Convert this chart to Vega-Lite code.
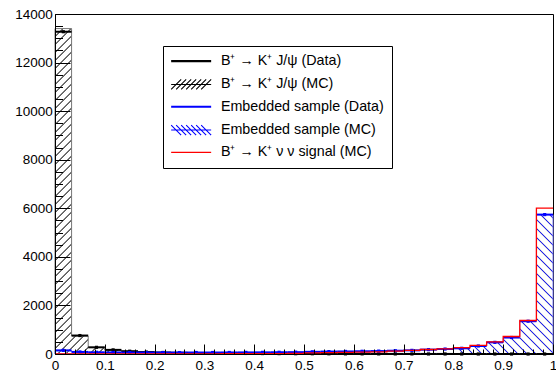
{
  "$schema": "https://vega.github.io/schema/vega-lite/v6.json",
  "width": 498,
  "height": 340,
  "autosize": {"type": "none"},
  "padding": {"left": 55, "top": 14, "right": 3, "bottom": 18},
  "background": "#ffffff",
  "config": {"view": {"stroke": "#000000", "strokeWidth": 1}, "font": "Liberation Sans"},
  "data": {"values": [
    {"lo":0,"hi":0.0333,"mid":0.0167,"jd":13270,"jm":13400,"ed":150,"em":130,"sig":5},
    {"lo":0.0333,"hi":0.0667,"mid":0.05,"jd":760,"jm":740,"ed":85,"em":80,"sig":5},
    {"lo":0.0667,"hi":0.1,"mid":0.0833,"jd":275,"jm":270,"ed":70,"em":65,"sig":5},
    {"lo":0.1,"hi":0.1333,"mid":0.1167,"jd":170,"jm":165,"ed":65,"em":60,"sig":5},
    {"lo":0.1333,"hi":0.1667,"mid":0.15,"jd":115,"jm":110,"ed":62,"em":58,"sig":5},
    {"lo":0.1667,"hi":0.2,"mid":0.1833,"jd":80,"jm":80,"ed":60,"em":55,"sig":6},
    {"lo":0.2,"hi":0.2333,"mid":0.2167,"jd":62,"jm":62,"ed":60,"em":55,"sig":6},
    {"lo":0.2333,"hi":0.2667,"mid":0.25,"jd":50,"jm":50,"ed":60,"em":55,"sig":7},
    {"lo":0.2667,"hi":0.3,"mid":0.2833,"jd":40,"jm":40,"ed":62,"em":57,"sig":8},
    {"lo":0.3,"hi":0.3333,"mid":0.3167,"jd":32,"jm":32,"ed":62,"em":58,"sig":9},
    {"lo":0.3333,"hi":0.3667,"mid":0.35,"jd":26,"jm":26,"ed":64,"em":60,"sig":10},
    {"lo":0.3667,"hi":0.4,"mid":0.3833,"jd":22,"jm":22,"ed":66,"em":62,"sig":12},
    {"lo":0.4,"hi":0.4333,"mid":0.4167,"jd":18,"jm":18,"ed":68,"em":64,"sig":14},
    {"lo":0.4333,"hi":0.4667,"mid":0.45,"jd":15,"jm":15,"ed":72,"em":68,"sig":17},
    {"lo":0.4667,"hi":0.5,"mid":0.4833,"jd":12,"jm":12,"ed":75,"em":72,"sig":20},
    {"lo":0.5,"hi":0.5333,"mid":0.5167,"jd":10,"jm":10,"ed":90,"em":85,"sig":45},
    {"lo":0.5333,"hi":0.5667,"mid":0.55,"jd":8,"jm":8,"ed":100,"em":95,"sig":55},
    {"lo":0.5667,"hi":0.6,"mid":0.5833,"jd":6,"jm":6,"ed":105,"em":100,"sig":65},
    {"lo":0.6,"hi":0.6333,"mid":0.6167,"jd":5,"jm":5,"ed":112,"em":108,"sig":75},
    {"lo":0.6333,"hi":0.6667,"mid":0.65,"jd":4,"jm":4,"ed":120,"em":115,"sig":90},
    {"lo":0.6667,"hi":0.7,"mid":0.6833,"jd":3,"jm":3,"ed":135,"em":130,"sig":120},
    {"lo":0.7,"hi":0.7333,"mid":0.7167,"jd":3,"jm":3,"ed":150,"em":145,"sig":150},
    {"lo":0.7333,"hi":0.7667,"mid":0.75,"jd":2,"jm":2,"ed":180,"em":175,"sig":185},
    {"lo":0.7667,"hi":0.8,"mid":0.7833,"jd":2,"jm":2,"ed":205,"em":200,"sig":215},
    {"lo":0.8,"hi":0.8333,"mid":0.8167,"jd":1,"jm":1,"ed":235,"em":230,"sig":260},
    {"lo":0.8333,"hi":0.8667,"mid":0.85,"jd":1,"jm":1,"ed":330,"em":325,"sig":355},
    {"lo":0.8667,"hi":0.9,"mid":0.8833,"jd":1,"jm":1,"ed":480,"em":475,"sig":500},
    {"lo":0.9,"hi":0.9333,"mid":0.9167,"jd":0,"jm":0,"ed":680,"em":670,"sig":720},
    {"lo":0.9333,"hi":0.9667,"mid":0.95,"jd":0,"jm":0,"ed":1350,"em":1340,"sig":1380},
    {"lo":0.9667,"hi":1,"mid":0.9833,"jd":0,"jm":0,"ed":5740,"em":5740,"sig":6010}
  ]},
  "layer": [
    {
      "transform": [{"fold": ["lo", "hi"], "as": ["k", "xv"]}],
      "mark": {"type": "area", "stroke": "#777777", "strokeWidth": 1,
        "fill": {"gradient": "linear", "x1": 0, "y1": 0, "x2": 0.5629, "y2": 0.3678, "stops": [
          {"offset":0,"color":"transparent"},
          {"offset":0.017,"color":"transparent"},{"offset":0.02,"color":"#111111"},{"offset":0.023,"color":"transparent"},
          {"offset":0.037,"color":"transparent"},{"offset":0.04,"color":"#111111"},{"offset":0.043,"color":"transparent"},
          {"offset":0.057,"color":"transparent"},{"offset":0.06,"color":"#111111"},{"offset":0.063,"color":"transparent"},
          {"offset":0.077,"color":"transparent"},{"offset":0.08,"color":"#111111"},{"offset":0.083,"color":"transparent"},
          {"offset":0.097,"color":"transparent"},{"offset":0.1,"color":"#111111"},{"offset":0.103,"color":"transparent"},
          {"offset":0.117,"color":"transparent"},{"offset":0.12,"color":"#111111"},{"offset":0.123,"color":"transparent"},
          {"offset":0.137,"color":"transparent"},{"offset":0.14,"color":"#111111"},{"offset":0.143,"color":"transparent"},
          {"offset":0.157,"color":"transparent"},{"offset":0.16,"color":"#111111"},{"offset":0.163,"color":"transparent"},
          {"offset":0.177,"color":"transparent"},{"offset":0.18,"color":"#111111"},{"offset":0.183,"color":"transparent"},
          {"offset":0.197,"color":"transparent"},{"offset":0.2,"color":"#111111"},{"offset":0.203,"color":"transparent"},
          {"offset":0.217,"color":"transparent"},{"offset":0.22,"color":"#111111"},{"offset":0.223,"color":"transparent"},
          {"offset":0.237,"color":"transparent"},{"offset":0.24,"color":"#111111"},{"offset":0.243,"color":"transparent"},
          {"offset":0.257,"color":"transparent"},{"offset":0.26,"color":"#111111"},{"offset":0.263,"color":"transparent"},
          {"offset":0.277,"color":"transparent"},{"offset":0.28,"color":"#111111"},{"offset":0.283,"color":"transparent"},
          {"offset":0.297,"color":"transparent"},{"offset":0.3,"color":"#111111"},{"offset":0.303,"color":"transparent"},
          {"offset":0.317,"color":"transparent"},{"offset":0.32,"color":"#111111"},{"offset":0.323,"color":"transparent"},
          {"offset":0.337,"color":"transparent"},{"offset":0.34,"color":"#111111"},{"offset":0.343,"color":"transparent"},
          {"offset":0.357,"color":"transparent"},{"offset":0.36,"color":"#111111"},{"offset":0.363,"color":"transparent"},
          {"offset":0.377,"color":"transparent"},{"offset":0.38,"color":"#111111"},{"offset":0.383,"color":"transparent"},
          {"offset":0.397,"color":"transparent"},{"offset":0.4,"color":"#111111"},{"offset":0.403,"color":"transparent"},
          {"offset":0.417,"color":"transparent"},{"offset":0.42,"color":"#111111"},{"offset":0.423,"color":"transparent"},
          {"offset":0.437,"color":"transparent"},{"offset":0.44,"color":"#111111"},{"offset":0.443,"color":"transparent"},
          {"offset":0.457,"color":"transparent"},{"offset":0.46,"color":"#111111"},{"offset":0.463,"color":"transparent"},
          {"offset":0.477,"color":"transparent"},{"offset":0.48,"color":"#111111"},{"offset":0.483,"color":"transparent"},
          {"offset":0.497,"color":"transparent"},{"offset":0.5,"color":"#111111"},{"offset":0.503,"color":"transparent"},
          {"offset":0.517,"color":"transparent"},{"offset":0.52,"color":"#111111"},{"offset":0.523,"color":"transparent"},
          {"offset":0.537,"color":"transparent"},{"offset":0.54,"color":"#111111"},{"offset":0.543,"color":"transparent"},
          {"offset":0.557,"color":"transparent"},{"offset":0.56,"color":"#111111"},{"offset":0.563,"color":"transparent"},
          {"offset":0.577,"color":"transparent"},{"offset":0.58,"color":"#111111"},{"offset":0.583,"color":"transparent"},
          {"offset":0.597,"color":"transparent"},{"offset":0.6,"color":"#111111"},{"offset":0.603,"color":"transparent"},
          {"offset":0.617,"color":"transparent"},{"offset":0.62,"color":"#111111"},{"offset":0.623,"color":"transparent"},
          {"offset":0.637,"color":"transparent"},{"offset":0.64,"color":"#111111"},{"offset":0.643,"color":"transparent"},
          {"offset":0.657,"color":"transparent"},{"offset":0.66,"color":"#111111"},{"offset":0.663,"color":"transparent"},
          {"offset":0.677,"color":"transparent"},{"offset":0.68,"color":"#111111"},{"offset":0.683,"color":"transparent"},
          {"offset":0.697,"color":"transparent"},{"offset":0.7,"color":"#111111"},{"offset":0.703,"color":"transparent"},
          {"offset":0.717,"color":"transparent"},{"offset":0.72,"color":"#111111"},{"offset":0.723,"color":"transparent"},
          {"offset":0.737,"color":"transparent"},{"offset":0.74,"color":"#111111"},{"offset":0.743,"color":"transparent"},
          {"offset":0.757,"color":"transparent"},{"offset":0.76,"color":"#111111"},{"offset":0.763,"color":"transparent"},
          {"offset":0.777,"color":"transparent"},{"offset":0.78,"color":"#111111"},{"offset":0.783,"color":"transparent"},
          {"offset":0.797,"color":"transparent"},{"offset":0.8,"color":"#111111"},{"offset":0.803,"color":"transparent"},
          {"offset":0.817,"color":"transparent"},{"offset":0.82,"color":"#111111"},{"offset":0.823,"color":"transparent"},
          {"offset":0.837,"color":"transparent"},{"offset":0.84,"color":"#111111"},{"offset":0.843,"color":"transparent"},
          {"offset":0.857,"color":"transparent"},{"offset":0.86,"color":"#111111"},{"offset":0.863,"color":"transparent"},
          {"offset":0.877,"color":"transparent"},{"offset":0.88,"color":"#111111"},{"offset":0.883,"color":"transparent"},
          {"offset":0.897,"color":"transparent"},{"offset":0.9,"color":"#111111"},{"offset":0.903,"color":"transparent"},
          {"offset":0.917,"color":"transparent"},{"offset":0.92,"color":"#111111"},{"offset":0.923,"color":"transparent"},
          {"offset":0.937,"color":"transparent"},{"offset":0.94,"color":"#111111"},{"offset":0.943,"color":"transparent"},
          {"offset":0.957,"color":"transparent"},{"offset":0.96,"color":"#111111"},{"offset":0.963,"color":"transparent"},
          {"offset":0.977,"color":"transparent"},{"offset":0.98,"color":"#111111"},{"offset":0.983,"color":"transparent"}
        ]}},
      "encoding": {
        "x": {"field": "xv", "type": "quantitative", "scale": {"domain": [0, 1], "nice": false, "zero": false},
          "axis": {"orient": "bottom", "values": [0, 0.1, 0.2, 0.3, 0.4, 0.5, 0.6, 0.7, 0.8, 0.9, 1], "format": "~g",
            "tickSize": -10, "tickColor": "#000000", "tickWidth": 1, "labelPadding": 14.5,
            "labelFont": "Liberation Sans", "labelFontSize": 13.5, "labelColor": "#000000",
            "labelFlush": false, "labelOverlap": false, "labelBound": false,
            "domain": true, "domainColor": "#000000", "grid": false, "title": null, "zindex": 1}},
        "y": {"field": "jm", "type": "quantitative", "stack": null, "scale": {"domain": [0, 14000], "nice": false},
          "axis": {"orient": "left", "values": [0, 2000, 4000, 6000, 8000, 10000, 12000, 14000], "format": "d",
            "tickSize": -15, "tickColor": "#000000", "tickWidth": 1, "labelPadding": 17.7,
            "labelFont": "Liberation Sans", "labelFontSize": 13.5, "labelColor": "#000000",
            "labelFlush": false, "labelOverlap": false, "labelBound": false,
            "domain": true, "domainColor": "#000000", "grid": false, "title": null, "zindex": 1}},
        "order": [{"field": "xv", "type": "quantitative"}, {"field": "k", "type": "nominal"}]
      }
    },
    {
      "transform": [{"fold": ["lo", "hi"], "as": ["k", "xv"]}],
      "mark": {"type": "area", "stroke": "#7a7aff", "strokeWidth": 1,
        "fill": {"gradient": "linear", "x1": 0.80321, "y1": 1, "x2": 1.25011, "y2": 0.8749, "stops": [
          {"offset":0,"color":"transparent"},
          {"offset":0.0325,"color":"transparent"},{"offset":0.0375,"color":"#1a1aff"},{"offset":0.0425,"color":"transparent"},
          {"offset":0.07,"color":"transparent"},{"offset":0.075,"color":"#1a1aff"},{"offset":0.08,"color":"transparent"},
          {"offset":0.1075,"color":"transparent"},{"offset":0.1125,"color":"#1a1aff"},{"offset":0.1175,"color":"transparent"},
          {"offset":0.145,"color":"transparent"},{"offset":0.15,"color":"#1a1aff"},{"offset":0.155,"color":"transparent"},
          {"offset":0.1825,"color":"transparent"},{"offset":0.1875,"color":"#1a1aff"},{"offset":0.1925,"color":"transparent"},
          {"offset":0.22,"color":"transparent"},{"offset":0.225,"color":"#1a1aff"},{"offset":0.23,"color":"transparent"},
          {"offset":0.2575,"color":"transparent"},{"offset":0.2625,"color":"#1a1aff"},{"offset":0.2675,"color":"transparent"},
          {"offset":0.295,"color":"transparent"},{"offset":0.3,"color":"#1a1aff"},{"offset":0.305,"color":"transparent"},
          {"offset":0.3325,"color":"transparent"},{"offset":0.3375,"color":"#1a1aff"},{"offset":0.3425,"color":"transparent"},
          {"offset":0.37,"color":"transparent"},{"offset":0.375,"color":"#1a1aff"},{"offset":0.38,"color":"transparent"},
          {"offset":0.4075,"color":"transparent"},{"offset":0.4125,"color":"#1a1aff"},{"offset":0.4175,"color":"transparent"},
          {"offset":0.445,"color":"transparent"},{"offset":0.45,"color":"#1a1aff"},{"offset":0.455,"color":"transparent"},
          {"offset":0.4825,"color":"transparent"},{"offset":0.4875,"color":"#1a1aff"},{"offset":0.4925,"color":"transparent"},
          {"offset":0.52,"color":"transparent"},{"offset":0.525,"color":"#1a1aff"},{"offset":0.53,"color":"transparent"},
          {"offset":0.5575,"color":"transparent"},{"offset":0.5625,"color":"#1a1aff"},{"offset":0.5675,"color":"transparent"},
          {"offset":0.595,"color":"transparent"},{"offset":0.6,"color":"#1a1aff"},{"offset":0.605,"color":"transparent"},
          {"offset":0.6325,"color":"transparent"},{"offset":0.6375,"color":"#1a1aff"},{"offset":0.6425,"color":"transparent"},
          {"offset":0.67,"color":"transparent"},{"offset":0.675,"color":"#1a1aff"},{"offset":0.68,"color":"transparent"},
          {"offset":0.7075,"color":"transparent"},{"offset":0.7125,"color":"#1a1aff"},{"offset":0.7175,"color":"transparent"},
          {"offset":0.745,"color":"transparent"},{"offset":0.75,"color":"#1a1aff"},{"offset":0.755,"color":"transparent"},
          {"offset":0.7825,"color":"transparent"},{"offset":0.7875,"color":"#1a1aff"},{"offset":0.7925,"color":"transparent"},
          {"offset":0.82,"color":"transparent"},{"offset":0.825,"color":"#1a1aff"},{"offset":0.83,"color":"transparent"},
          {"offset":0.8575,"color":"transparent"},{"offset":0.8625,"color":"#1a1aff"},{"offset":0.8675,"color":"transparent"},
          {"offset":0.895,"color":"transparent"},{"offset":0.9,"color":"#1a1aff"},{"offset":0.905,"color":"transparent"},
          {"offset":0.9325,"color":"transparent"},{"offset":0.9375,"color":"#1a1aff"},{"offset":0.9425,"color":"transparent"},
          {"offset":0.97,"color":"transparent"},{"offset":0.975,"color":"#1a1aff"},{"offset":0.98,"color":"transparent"}
        ]}},
      "encoding": {
        "x": {"field": "xv", "type": "quantitative",
          "axis": {"orient": "bottom", "values": [0.02,0.04,0.06,0.08,0.12,0.14,0.16,0.18,0.22,0.24,0.26,0.28,0.32,0.34,0.36,0.38,0.42,0.44,0.46,0.48,0.52,0.54,0.56,0.58,0.62,0.64,0.66,0.68,0.72,0.74,0.76,0.78,0.82,0.84,0.86,0.88,0.92,0.94,0.96,0.98],
            "tickSize": -5, "tickColor": "#000000", "tickWidth": 1, "labels": false, "domain": false, "grid": false, "title": null, "zindex": 1}},
        "y": {"field": "em", "type": "quantitative", "stack": null,
          "axis": {"orient": "left", "values": [500,1000,1500,2500,3000,3500,4500,5000,5500,6500,7000,7500,8500,9000,9500,10500,11000,11500,12500,13000,13500],
            "tickSize": -7.5, "tickColor": "#000000", "tickWidth": 1, "labels": false, "domain": false, "grid": false, "title": null, "zindex": 1}},
        "order": [{"field": "xv", "type": "quantitative"}, {"field": "k", "type": "nominal"}]
      }
    },
    {
      "mark": {"type": "rule", "color": "#000000", "strokeWidth": 2},
      "encoding": {
        "x": {"field": "lo", "type": "quantitative", "axis": null},
        "x2": {"field": "hi"},
        "y": {"field": "jd", "type": "quantitative", "axis": null}
      }
    },
    {
      "mark": {"type": "square", "color": "#000000", "size": 10, "opacity": 1, "filled": true},
      "encoding": {
        "x": {"field": "mid", "type": "quantitative", "axis": null},
        "y": {"field": "jd", "type": "quantitative", "axis": null}
      }
    },
    {
      "mark": {"type": "rule", "color": "#0000ff", "strokeWidth": 2},
      "encoding": {
        "x": {"field": "lo", "type": "quantitative", "axis": null},
        "x2": {"field": "hi"},
        "y": {"field": "ed", "type": "quantitative", "axis": null}
      }
    },
    {
      "mark": {"type": "square", "color": "#0000ff", "size": 10, "opacity": 1, "filled": true},
      "encoding": {
        "x": {"field": "mid", "type": "quantitative", "axis": null},
        "y": {"field": "ed", "type": "quantitative", "axis": null}
      }
    },
    {
      "transform": [{"fold": ["lo", "hi"], "as": ["k", "xv"]}],
      "mark": {"type": "line", "color": "#ff0000", "strokeWidth": 1.3},
      "encoding": {
        "x": {"field": "xv", "type": "quantitative", "axis": null},
        "y": {"field": "sig", "type": "quantitative", "axis": null},
        "order": [{"field": "xv", "type": "quantitative"}, {"field": "k", "type": "nominal"}]
      }
    },
    {
      "transform": [{"fold": ["jd", "jm", "ed", "em", "sig"], "as": ["key", "val"]}],
      "mark": {"type": "point", "opacity": 0, "filled": false},
      "encoding": {
        "x": {"field": "mid", "type": "quantitative", "axis": null},
        "y": {"field": "val", "type": "quantitative", "axis": null},
        "color": {"field": "key", "type": "nominal",
          "scale": {"domain": ["jd", "jm", "ed", "em", "sig"], "range": ["#000000", "#000000", "#0000ff", "#0000ff", "#ff0000"]},
          "legend": {
            "orient": "none", "legendX": 108, "legendY": 32, "title": null, "direction": "vertical",
            "symbolSize": 100, "symbolOpacity": 1, "symbolOffset": 13, "symbolStrokeWidth": 1.1, "symbolFillColor": "transparent",
            "labelFont": "Liberation Sans", "labelFontSize": 14.3, "labelColor": "#000000", "labelLimit": 300,
            "labelOffset": 22.6, "rowPadding": 7.3, "padding": 8,
            "strokeColor": "#000000", "fillColor": "#ffffff",
            "labelExpr": "datum.value === 'jd' ? 'B⁺ → K⁺ J/ψ (Data)' : datum.value === 'jm' ? 'B⁺ → K⁺ J/ψ (MC)' : datum.value === 'ed' ? 'Embedded sample (Data)' : datum.value === 'em' ? 'Embedded sample (MC)' : 'B⁺ → K⁺ ν ν signal (MC)'"
          }},
        "shape": {"field": "key", "type": "nominal",
          "scale": {"domain": ["jd", "jm", "ed", "em", "sig"], "range": [
            "M-4,-0.1H4M-4,0.1H4",
            "M-4,0H4M-4,1L-2,-1M-3,1L-1,-1M-2,1L0,-1M-1,1L1,-1M0,1L2,-1M1,1L3,-1M2,1L4,-1",
            "M-4,-0.1H4M-4,0.1H4",
            "M-4,0H4M-4,-1L-2,1M-3,-1L-1,1M-2,-1L0,1M-1,-1L1,1M0,-1L2,1M1,-1L3,1M2,-1L4,1",
            "M-4,0H4"
          ]},
          "legend": {
            "orient": "none", "legendX": 108, "legendY": 32, "title": null, "direction": "vertical",
            "symbolSize": 100, "symbolOpacity": 1, "symbolOffset": 13, "symbolStrokeWidth": 1.1, "symbolFillColor": "transparent",
            "labelFont": "Liberation Sans", "labelFontSize": 14.3, "labelColor": "#000000", "labelLimit": 300,
            "labelOffset": 22.6, "rowPadding": 7.3, "padding": 8,
            "strokeColor": "#000000", "fillColor": "#ffffff",
            "labelExpr": "datum.value === 'jd' ? 'B⁺ → K⁺ J/ψ (Data)' : datum.value === 'jm' ? 'B⁺ → K⁺ J/ψ (MC)' : datum.value === 'ed' ? 'Embedded sample (Data)' : datum.value === 'em' ? 'Embedded sample (MC)' : 'B⁺ → K⁺ ν ν signal (MC)'"
          }}
      }
    }
  ],
  "resolve": {"axis": {"x": "independent", "y": "independent"}}
}
